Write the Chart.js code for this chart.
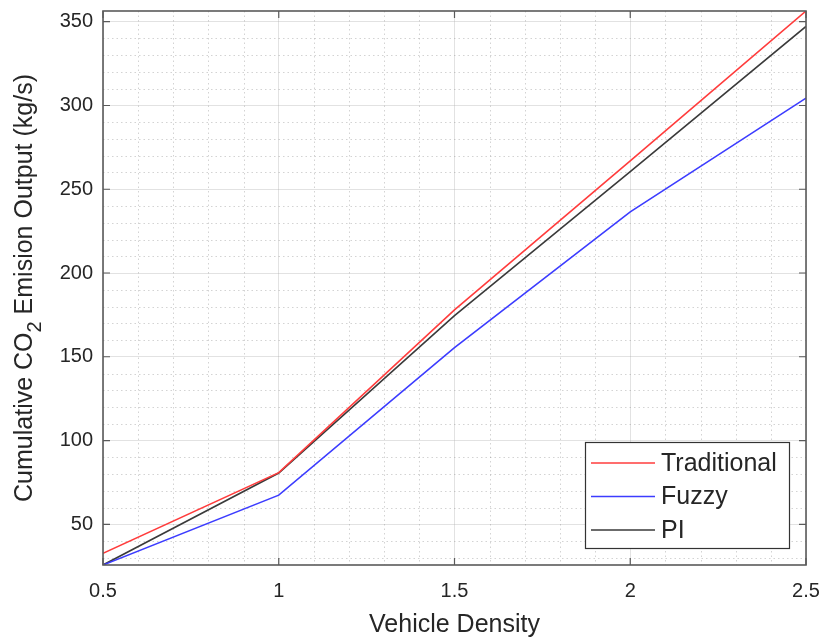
<!DOCTYPE html>
<html>
<head>
<meta charset="utf-8">
<script src="https://cdn.jsdelivr.net/npm/chart.js@4/dist/chart.umd.min.js"></script>
<style>
  html, body { margin: 0; padding: 0; background: #fff; }
  #wrap { width: 824px; height: 640px; }
</style>
</head>
<body>
<div id="wrap"><canvas id="c" width="824" height="640"></canvas></div>
<script>
const density = [0.5, 1, 1.5, 2, 2.5];
const traditional = [32.7, 80.8, 178, 267, 356.4];
const fuzzy = [25.7, 67.4, 155.5, 236.5, 304.4];
const pi = [25.7, 80.6, 174.5, 260.5, 347.2];
const seriesNames = ['Traditional', 'Fuzzy', 'PI'];
const seriesColors = ['#ff3c3c', '#3c3cff', '#3a3a3a'];
const xTicks = [0.5, 1, 1.5, 2, 2.5];
const yTicks = [50, 100, 150, 200, 250, 300, 350];
const yMin = 25.7, yMax = 356.4;
const xTitle = 'Vehicle Density';
const yTitleParts = ['Cumulative CO', '2', ' Emision Output (kg/s)'];

const FONT = '"Liberation Sans", Arial, Helvetica, sans-serif';
const TXT = '#262626';

function mk(vals) { return density.map((x, i) => ({x: x, y: vals[i]})); }
const allSeries = [traditional, fuzzy, pi];

const decor = {
  id: 'decor',
  beforeDatasetsDraw(chart) {
    const {ctx, chartArea: a, scales: {x, y}} = chart;
    ctx.save();
    ctx.strokeStyle = 'rgba(140,140,140,0.38)';
    ctx.lineWidth = 1;
    ctx.setLineDash([1.5, 3]);
    for (let v = 30; v < yMax; v += 10) {
      if (v % 50 === 0) continue;
      const py = Math.round(y.getPixelForValue(v)) + 0.5;
      ctx.beginPath(); ctx.moveTo(a.left, py); ctx.lineTo(a.right, py); ctx.stroke();
    }
    for (let k = 6; k < 25; k++) {
      if (k % 5 === 0) continue;
      const px = Math.round(x.getPixelForValue(k / 10)) + 0.5;
      ctx.beginPath(); ctx.moveTo(px, a.top); ctx.lineTo(px, a.bottom); ctx.stroke();
    }
    ctx.restore();
  },
  afterDatasetsDraw(chart) {
    const {ctx, chartArea: a, scales: {x, y}} = chart;
    ctx.save();
    ctx.strokeStyle = '#5a5a5a';
    ctx.lineWidth = 1.6;
    ctx.strokeRect(a.left, a.top, a.right - a.left, a.bottom - a.top);
    ctx.lineWidth = 1.2;
    const tl = 7;
    yTicks.forEach(v => {
      const py = y.getPixelForValue(v);
      ctx.beginPath();
      ctx.moveTo(a.left, py); ctx.lineTo(a.left + tl, py);
      ctx.moveTo(a.right, py); ctx.lineTo(a.right - tl, py);
      ctx.stroke();
    });
    xTicks.forEach(v => {
      const px = x.getPixelForValue(v);
      ctx.beginPath();
      ctx.moveTo(px, a.bottom); ctx.lineTo(px, a.bottom - tl);
      ctx.moveTo(px, a.top); ctx.lineTo(px, a.top + tl);
      ctx.stroke();
    });
    // legend
    const lx = 585, ly = 442, lw = 204, lh = 106;
    ctx.fillStyle = '#fff';
    ctx.fillRect(lx, ly, lw, lh);
    ctx.strokeStyle = '#333';
    ctx.lineWidth = 1.2;
    ctx.strokeRect(lx + 0.5, ly + 0.5, lw, lh);
    ctx.font = '25px ' + FONT;
    ctx.textBaseline = 'middle';
    ctx.textAlign = 'left';
    chart.data.datasets.forEach((ds, i) => {
      const yy = ly + 21 + i * 33.5;
      ctx.strokeStyle = ds.borderColor;
      ctx.lineWidth = 1.5;
      ctx.beginPath(); ctx.moveTo(lx + 6, yy); ctx.lineTo(lx + 70, yy); ctx.stroke();
      ctx.fillStyle = TXT;
      ctx.fillText(ds.label, lx + 76, yy + 1);
    });
    // y title with subscript
    ctx.translate(32, (a.top + a.bottom) / 2);
    ctx.rotate(-Math.PI / 2);
    ctx.fillStyle = TXT;
    ctx.textBaseline = 'alphabetic';
    const mainF = '25px ' + FONT, subF = '20px ' + FONT;
    ctx.font = mainF; const w0 = ctx.measureText(yTitleParts[0]).width;
    ctx.font = subF; const w1 = ctx.measureText(yTitleParts[1]).width;
    ctx.font = mainF; const w2 = ctx.measureText(yTitleParts[2]).width;
    let sx = -(w0 + w1 + w2) / 2;
    ctx.font = mainF; ctx.fillText(yTitleParts[0], sx, 0); sx += w0;
    ctx.font = subF; ctx.fillText(yTitleParts[1], sx, 9); sx += w1;
    ctx.font = mainF; ctx.fillText(yTitleParts[2], sx, 0);
    ctx.restore();
  }
};

new Chart(document.getElementById('c'), {
  type: 'line',
  data: {
    datasets: allSeries.map((s, i) => ({
      label: seriesNames[i],
      data: mk(s),
      borderColor: seriesColors[i],
      backgroundColor: seriesColors[i],
      borderWidth: 1.6,
      pointRadius: 0,
      tension: 0,
      fill: false
    }))
  },
  options: {
    responsive: false,
    animation: false,
    layout: { padding: { left: 0, right: 18, top: 11, bottom: 0 } },
    plugins: { legend: { display: false }, tooltip: { enabled: false } },
    scales: {
      x: {
        type: 'linear', min: 0.5, max: 2.5,
        afterFit(s) { s.height = 75; s.paddingLeft = 0; s.paddingRight = 0; },
        afterBuildTicks(s) { s.ticks = xTicks.map(v => ({value: v})); },
        ticks: { font: { size: 20, family: FONT }, color: TXT, padding: 14, maxRotation: 0,
                 callback: v => String(v) },
        grid: { color: 'rgba(160,160,160,0.3)', lineWidth: 1, drawTicks: false },
        border: { display: false },
        title: { display: true, text: xTitle, font: { size: 25, family: FONT }, color: TXT, padding: { top: 2, bottom: 0 } }
      },
      y: {
        type: 'linear', min: yMin, max: yMax,
        afterFit(s) { s.width = 103; s.paddingTop = 0; s.paddingBottom = 0; },
        afterBuildTicks(s) { s.ticks = yTicks.map(v => ({value: v})); },
        ticks: { font: { size: 20, family: FONT }, color: TXT, padding: 10,
                 callback: v => String(v) },
        grid: { color: 'rgba(160,160,160,0.3)', lineWidth: 1, drawTicks: false },
        border: { display: false }
      }
    }
  },
  plugins: [decor]
});
</script>
</body>
</html>
